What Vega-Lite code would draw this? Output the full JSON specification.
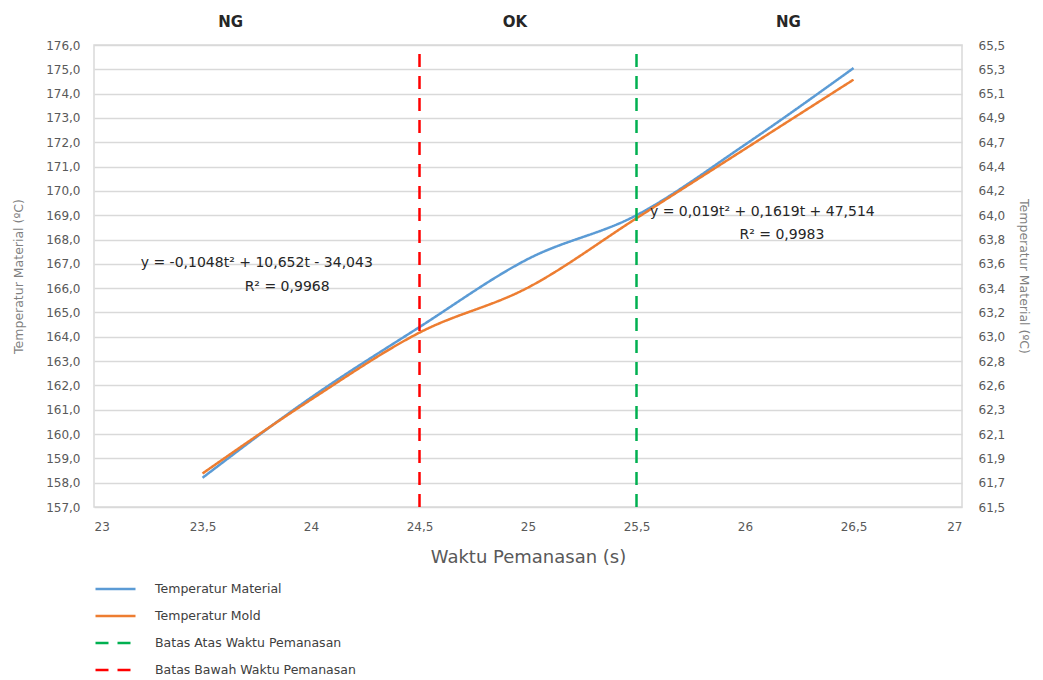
{
  "$schema": "https://vega.github.io/schema/vega-lite/v6.json",
  "width": 868,
  "height": 462,
  "autosize": {"type": "none"},
  "padding": {"left": 94, "top": 45, "right": 81, "bottom": 173},
  "background": "white",
  "config": {
    "font": "DejaVu Sans",
    "view": {"stroke": "#d9d9d9", "strokeWidth": 1.5},
    "axis": {
      "labelFont": "DejaVu Sans",
      "labelFontSize": 12,
      "labelColor": "#595959",
      "labelOverlap": false,
      "ticks": false,
      "domain": false,
      "gridColor": "#d9d9d9",
      "gridWidth": 1.5,
      "titleFont": "DejaVu Sans",
      "titleColor": "#7f7f7f",
      "titleFontWeight": "normal",
      "titleFontSize": 12.5
    },
    "legend": {
      "orient": "none",
      "legendX": 0,
      "legendY": 533,
      "symbolType": "stroke",
      "symbolSize": 1600,
      "symbolStrokeWidth": 2.5,
      "labelFont": "DejaVu Sans",
      "labelFontSize": 12.5,
      "labelColor": "#404040",
      "labelOffset": 18,
      "clipHeight": 22,
      "rowPadding": 5,
      "labelLimit": 400
    }
  },
  "datasets": {
    "temps": [
      {"t": 23.5, "series": "Temperatur Material", "value": 158.2},
      {"t": 24.0, "series": "Temperatur Material", "value": 161.5},
      {"t": 24.5, "series": "Temperatur Material", "value": 164.4},
      {"t": 25.0, "series": "Temperatur Material", "value": 167.2},
      {"t": 25.5, "series": "Temperatur Material", "value": 169.0},
      {"t": 26.0, "series": "Temperatur Material", "value": 171.9},
      {"t": 26.5, "series": "Temperatur Material", "value": 175.05},
      {"t": 23.5, "series": "Temperatur Mold", "value": 61.79},
      {"t": 24.0, "series": "Temperatur Mold", "value": 62.43},
      {"t": 24.5, "series": "Temperatur Mold", "value": 63.01},
      {"t": 25.0, "series": "Temperatur Mold", "value": 63.40},
      {"t": 25.5, "series": "Temperatur Mold", "value": 64.0},
      {"t": 26.0, "series": "Temperatur Mold", "value": 64.6},
      {"t": 26.5, "series": "Temperatur Mold", "value": 65.2}
    ],
    "limits": [
      {"t": 25.5, "series": "Batas Atas Waktu Pemanasan", "y1": 157, "y2": 175.7},
      {"t": 24.5, "series": "Batas Bawah Waktu Pemanasan", "y1": 157, "y2": 176}
    ],
    "zones": [
      {"t": 23.63, "y": 176.95, "label": "NG"},
      {"t": 24.94, "y": 176.95, "label": "OK"},
      {"t": 26.2, "y": 176.95, "label": "NG"}
    ],
    "eqs": [
      {"t": 23.75, "y": 167.04, "label": "y = -0,1048t² + 10,652t - 34,043"},
      {"t": 23.89, "y": 166.05, "label": "R² = 0,9968"},
      {"t": 26.08, "y": 169.14, "label": "y = 0,019t² + 0,1619t + 47,514"},
      {"t": 26.17, "y": 168.19, "label": "R² = 0,9983"}
    ]
  },
  "layer": [
    {
      "data": {"name": "temps"},
      "transform": [{"filter": "datum.series === 'Temperatur Material'"}],
      "mark": {"type": "line", "interpolate": "monotone", "strokeWidth": 2.5},
      "encoding": {
        "x": {
          "field": "t",
          "type": "quantitative",
          "scale": {"domain": [23, 27], "nice": false, "zero": false},
          "axis": {
            "values": [23, 23.5, 24, 24.5, 25, 25.5, 26, 26.5, 27],
            "labelExpr": "replace(format(datum.value, '~g'), '.', ',')",
            "grid": false,
            "labelPadding": 14,
            "title": "Waktu Pemanasan (s)",
            "titleFontSize": 18,
            "titlePadding": 16,
            "titleColor": "#595959"
          }
        },
        "y": {
          "field": "value",
          "type": "quantitative",
          "scale": {"domain": [157, 176], "nice": false, "zero": false},
          "axis": {
            "orient": "left",
            "values": [157,158,159,160,161,162,163,164,165,166,167,168,169,170,171,172,173,174,175,176],
            "labelExpr": "replace(format(datum.value, '.1f'), '.', ',')",
            "labelOverlap": false,
            "grid": true,
            "labelPadding": 14,
            "title": "Temperatur Material (ºC)",
            "titlePadding": 20
          }
        },
        "color": {
          "field": "series",
          "type": "nominal",
          "title": null,
          "scale": {
            "domain": ["Temperatur Material", "Temperatur Mold", "Batas Atas Waktu Pemanasan", "Batas Bawah Waktu Pemanasan"],
            "range": ["#5B9BD5", "#ED7D31", "#00B050", "#FF0000"]
          }
        },
        "strokeDash": {
          "field": "series",
          "type": "nominal",
          "title": null,
          "scale": {
            "domain": ["Temperatur Material", "Temperatur Mold", "Batas Atas Waktu Pemanasan", "Batas Bawah Waktu Pemanasan"],
            "range": [[1, 0], [1, 0], [13, 9], [13, 9]]
          }
        }
      }
    },
    {
      "data": {"name": "temps"},
      "transform": [{"filter": "datum.series === 'Temperatur Mold'"}],
      "mark": {"type": "line", "interpolate": "monotone", "strokeWidth": 2.5},
      "encoding": {
        "x": {"field": "t", "type": "quantitative"},
        "y": {
          "field": "value",
          "type": "quantitative",
          "scale": {"domain": [61.5, 65.5], "nice": false, "zero": false},
          "axis": {
            "orient": "right",
            "values": [61.5, 61.7105, 61.9211, 62.1316, 62.3421, 62.5526, 62.7632, 62.9737, 63.1842, 63.3947, 63.6053, 63.8158, 64.0263, 64.2368, 64.4474, 64.6579, 64.8684, 65.0789, 65.2895, 65.5],
            "labelExpr": "replace(format(datum.value, '.1f'), '.', ',')",
            "grid": false,
            "labelPadding": 16,
            "title": "Temperatur Material (ºC)",
            "titlePadding": 12
          }
        },
        "color": {"field": "series", "type": "nominal", "title": null},
        "strokeDash": {"field": "series", "type": "nominal", "title": null}
      }
    },
    {
      "data": {"name": "limits"},
      "mark": {"type": "rule", "strokeWidth": 2.5},
      "encoding": {
        "x": {"field": "t", "type": "quantitative"},
        "y": {"field": "y1", "type": "quantitative", "scale": {"domain": [157, 176], "nice": false, "zero": false}, "axis": null},
        "y2": {"field": "y2"},
        "color": {"field": "series", "type": "nominal", "title": null},
        "strokeDash": {"field": "series", "type": "nominal", "title": null}
      }
    },
    {
      "data": {"name": "zones"},
      "mark": {"type": "text", "fontSize": 15, "fontWeight": "bold", "color": "#262626"},
      "encoding": {
        "x": {"field": "t", "type": "quantitative"},
        "y": {"field": "y", "type": "quantitative", "scale": {"domain": [157, 176], "nice": false, "zero": false}, "axis": null},
        "text": {"field": "label"}
      }
    },
    {
      "data": {"name": "eqs"},
      "mark": {"type": "text", "fontSize": 14, "color": "#262626"},
      "encoding": {
        "x": {"field": "t", "type": "quantitative"},
        "y": {"field": "y", "type": "quantitative", "scale": {"domain": [157, 176], "nice": false, "zero": false}, "axis": null},
        "text": {"field": "label"}
      }
    }
  ],
  "resolve": {"scale": {"y": "independent"}}
}
